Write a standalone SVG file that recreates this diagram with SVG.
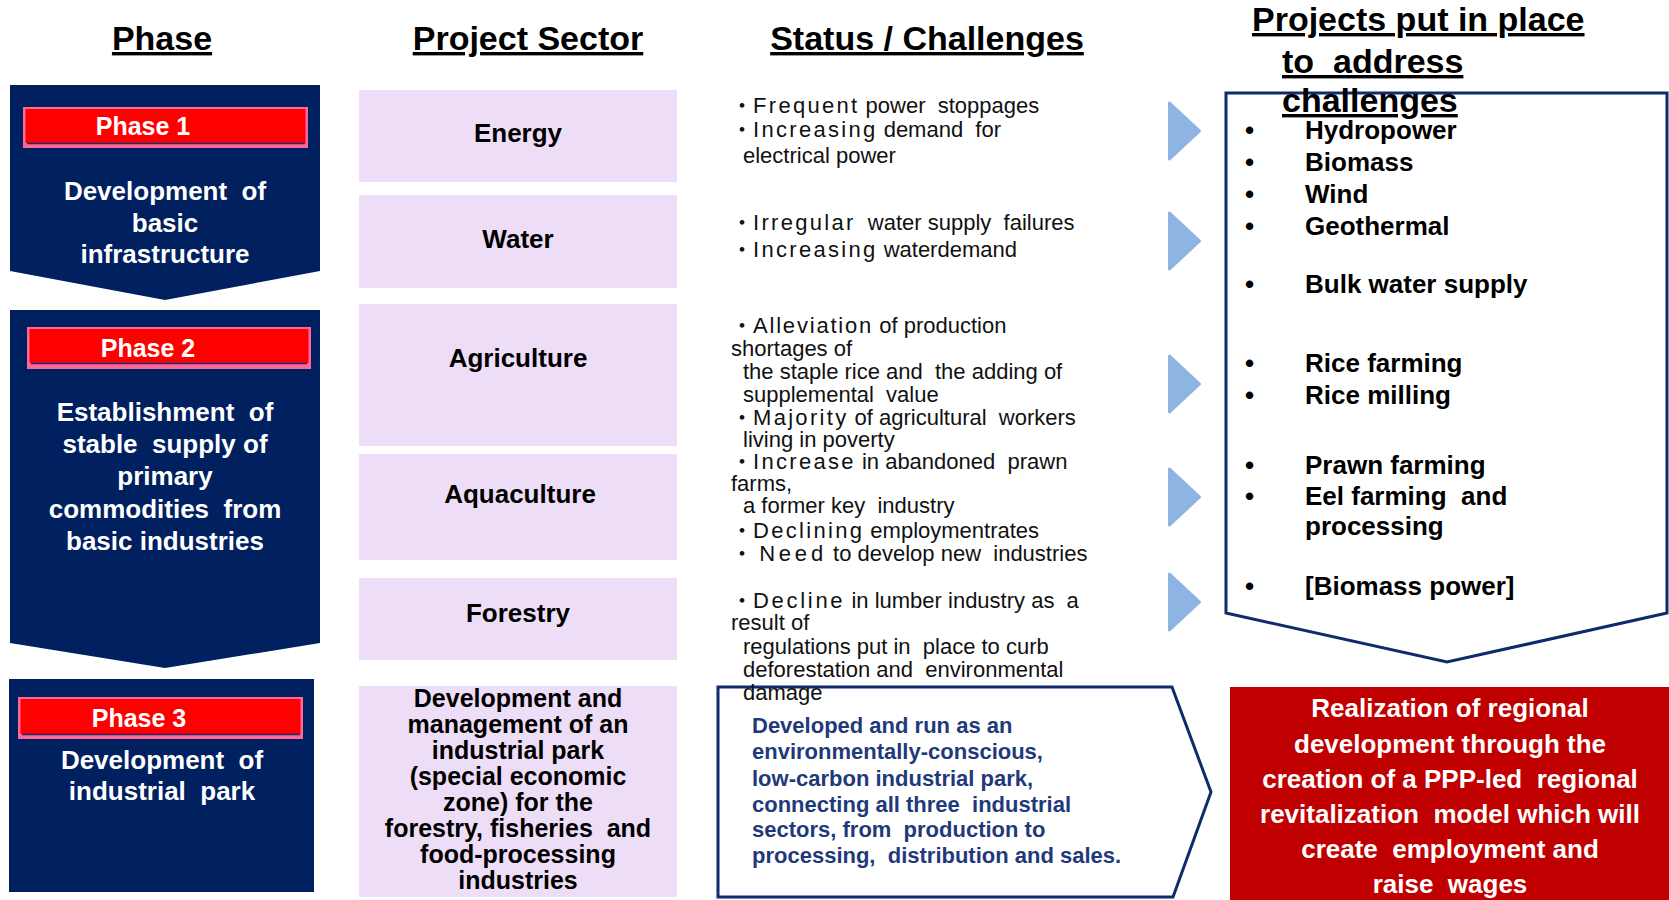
<svg xmlns="http://www.w3.org/2000/svg" width="1669" height="900" viewBox="0 0 1669 900" xml:space="preserve">
<style>
text{font-family:"Liberation Sans",Arial,"Noto Sans CJK JP",sans-serif;white-space:pre}
.hd{font-size:34px;font-weight:bold;fill:#000;text-decoration:underline}
.pbox{fill:#002060}
.plab{font-size:25px;font-weight:bold;fill:#fff;text-anchor:middle}
.pbody{font-size:26px;font-weight:bold;fill:#fff;text-anchor:middle}
.sec{fill:#EEDDF6}
.sect{font-size:26px;font-weight:bold;fill:#000;text-anchor:middle}
.sect2{font-size:25px;font-weight:bold;fill:#000;text-anchor:middle}
.st{font-size:22px;fill:#111}
.ls{letter-spacing:2.3px}
.arr{fill:#8DB4E2;stroke:#8DB4E2;stroke-width:3;stroke-linejoin:round}
.outl{fill:none;stroke:#0F2B6B;stroke-width:3}
.bt{font-size:22px;font-weight:bold;fill:#1F3A7A}
.pr{font-size:26px;font-weight:bold;fill:#000}
.rt{font-size:26px;font-weight:bold;fill:#fff;text-anchor:middle}
</style>

<g id="headers">
<text class="hd" x="162" y="50" text-anchor="middle">Phase</text>
<text class="hd" x="528" y="50" text-anchor="middle">Project Sector</text>
<text class="hd" x="927" y="50" text-anchor="middle">Status / Challenges</text>
</g>

<g id="phase1">
<path class="pbox" d="M10,85 H320 V271 L165,300 L10,271 Z"/>
<rect x="23" y="107" width="285" height="41" fill="#FF6699"/>
<rect x="25.5" y="109" width="280" height="34" fill="#FF0000"/>
<line x1="27" y1="143.5" x2="305" y2="143.5" stroke="#1F2A6A" stroke-width="1.6"/>
<text class="plab" x="143" y="135">Phase 1</text>
<text class="pbody" x="165" y="200" xml:space="preserve">Development  of</text>
<text class="pbody" x="165" y="232">basic</text>
<text class="pbody" x="165" y="263">infrastructure</text>
</g>

<g id="phase2">
<path class="pbox" d="M10,310 H320 V643 L165,668 L10,643 Z"/>
<rect x="27" y="327" width="284" height="42" fill="#FF6699"/>
<rect x="29.5" y="329" width="279" height="34" fill="#FF0000"/>
<line x1="31" y1="363.5" x2="307" y2="363.5" stroke="#1F2A6A" stroke-width="1.6"/>
<text class="plab" x="148" y="357">Phase 2</text>
<text class="pbody" x="165" y="421" xml:space="preserve">Establishment  of</text>
<text class="pbody" x="165" y="453" xml:space="preserve">stable  supply of</text>
<text class="pbody" x="165" y="485">primary</text>
<text class="pbody" x="165" y="518" xml:space="preserve">commodities  from</text>
<text class="pbody" x="165" y="550">basic industries</text>
</g>

<g id="phase3">
<rect class="pbox" x="9" y="679" width="305" height="213"/>
<rect x="18" y="697" width="285" height="42" fill="#FF6699"/>
<rect x="20.5" y="699" width="280" height="35" fill="#FF0000"/>
<line x1="22" y1="734.5" x2="300" y2="734.5" stroke="#1F2A6A" stroke-width="1.6"/>
<text class="plab" x="139" y="727">Phase 3</text>
<text class="pbody" x="162" y="769" xml:space="preserve">Development  of</text>
<text class="pbody" x="162" y="800" xml:space="preserve">industrial  park</text>
</g>

<g id="sector-energy">
<rect class="sec" x="359" y="90" width="318" height="92"/>
<text class="sect" x="518" y="142">Energy</text>
</g>
<g id="sector-water">
<rect class="sec" x="359" y="195" width="318" height="93"/>
<text class="sect" x="518" y="248">Water</text>
</g>
<g id="sector-agriculture">
<rect class="sec" x="359" y="304" width="318" height="142"/>
<text class="sect" x="518" y="367">Agriculture</text>
</g>
<g id="sector-aquaculture">
<rect class="sec" x="359" y="454" width="318" height="106"/>
<text class="sect" x="520" y="503">Aquaculture</text>
</g>
<g id="sector-forestry">
<rect class="sec" x="359" y="578" width="318" height="82"/>
<text class="sect" x="518" y="622">Forestry</text>
</g>
<g id="sector-industrial">
<rect class="sec" x="359" y="686" width="318" height="211"/>
<text class="sect2" x="518" y="707">Development and</text>
<text class="sect2" x="518" y="733">management of an</text>
<text class="sect2" x="518" y="759">industrial park</text>
<text class="sect2" x="518" y="785">(special economic</text>
<text class="sect2" x="518" y="811">zone) for the</text>
<text class="sect2" x="518" y="837" xml:space="preserve">forestry, fisheries  and</text>
<text class="sect2" x="518" y="863">food-processing</text>
<text class="sect2" x="518" y="889">industries</text>
</g>

<g id="status-energy">
<text class="st" x="731" y="113" xml:space="preserve">・<tspan class="ls">Frequent</tspan> power  stoppages</text>
<text class="st" x="731" y="137" xml:space="preserve">・<tspan class="ls">Increasing</tspan> demand  for</text>
<text class="st" x="743" y="163">electrical power</text>
</g>
<g id="status-water">
<text class="st" x="731" y="230" xml:space="preserve">・<tspan class="ls">Irregular</tspan>  water supply  failures</text>
<text class="st" x="731" y="257" xml:space="preserve">・<tspan class="ls">Increasing</tspan> waterdemand</text>
</g>
<g id="status-agriculture">
<text class="st" x="731" y="333" xml:space="preserve">・<tspan style="letter-spacing:1.8px">Alleviation</tspan> of production</text>
<text class="st" x="731" y="356">shortages of</text>
<text class="st" x="743" y="379" xml:space="preserve">the staple rice and  the adding of</text>
<text class="st" x="743" y="402" xml:space="preserve">supplemental  value</text>
<text class="st" x="731" y="425" xml:space="preserve">・<tspan class="ls">Majority</tspan> of agricultural  workers</text>
<text class="st" x="743" y="447">living in poverty</text>
</g>
<g id="status-aquaculture">
<text class="st" x="731" y="469" xml:space="preserve">・<tspan class="ls">Increase</tspan> in abandoned  prawn</text>
<text class="st" x="731" y="491">farms,</text>
<text class="st" x="743" y="513" xml:space="preserve">a former key  industry</text>
<text class="st" x="731" y="538" xml:space="preserve">・<tspan class="ls">Declining</tspan> employmentrates</text>
<text class="st" x="731" y="561" xml:space="preserve">・ <tspan style="letter-spacing:3.8px">Need</tspan> to develop new  industries</text>
</g>
<g id="status-forestry">
<text class="st" x="731" y="608" xml:space="preserve">・<tspan style="letter-spacing:2.7px">Decline</tspan> in lumber industry as  a</text>
<text class="st" x="731" y="630">result of</text>
<text class="st" x="743" y="654" xml:space="preserve">regulations put in  place to curb</text>
<text class="st" x="743" y="677" xml:space="preserve">deforestation and  environmental</text>
</g>

<g id="status-industrial">
<path class="outl" d="M718,687 H1172 L1211,792 L1173,897 H718 Z"/>
<text class="st" x="743" y="700">damage</text>
<text class="bt" x="752" y="733">Developed and run as an</text>
<text class="bt" x="752" y="759">environmentally-conscious,</text>
<text class="bt" x="752" y="786">low-carbon industrial park,</text>
<text class="bt" x="752" y="812" xml:space="preserve">connecting all three  industrial</text>
<text class="bt" x="752" y="837" xml:space="preserve">sectors, from  production to</text>
<text class="bt" x="752" y="863" xml:space="preserve">processing,  distribution and sales.</text>
</g>

<g id="connectors">
<path class="arr" d="M1169.5,103 L1199.5,131 L1169.5,159 Z"/>
<path class="arr" d="M1169.5,213 L1199.5,241 L1169.5,269 Z"/>
<path class="arr" d="M1169.5,356 L1199.5,384 L1169.5,412 Z"/>
<path class="arr" d="M1169.5,469 L1199.5,497 L1169.5,525 Z"/>
<path class="arr" d="M1169.5,574 L1199.5,602 L1169.5,630 Z"/>
</g>

<g id="projects">
<path class="outl" d="M1226,93 H1667 V613 L1447,662 L1226,613 Z"/>
<text class="hd" x="1252" y="31">Projects put in place</text>
<text class="hd" x="1282" y="73" xml:space="preserve">to  address</text>
<text class="hd" x="1282" y="112">challenges</text>
<g class="pr">
<text x="1245" y="139">•</text><text x="1305" y="139">Hydropower</text>
<text x="1245" y="171">•</text><text x="1305" y="171">Biomass</text>
<text x="1245" y="203">•</text><text x="1305" y="203">Wind</text>
<text x="1245" y="235">•</text><text x="1305" y="235">Geothermal</text>
<text x="1245" y="293">•</text><text x="1305" y="293">Bulk water supply</text>
<text x="1245" y="372">•</text><text x="1305" y="372">Rice farming</text>
<text x="1245" y="404">•</text><text x="1305" y="404">Rice milling</text>
<text x="1245" y="474">•</text><text x="1305" y="474">Prawn farming</text>
<text x="1245" y="505">•</text><text x="1305" y="505" xml:space="preserve">Eel farming  and</text>
<text x="1305" y="535">processing</text>
<text x="1245" y="595">•</text><text x="1305" y="595">[Biomass power]</text>
</g>
</g>

<g id="result">
<rect x="1230" y="687" width="439" height="213" fill="#C00000"/>
<text class="rt" x="1450" y="717">Realization of regional</text>
<text class="rt" x="1450" y="753">development through the</text>
<text class="rt" x="1450" y="788" xml:space="preserve">creation of a PPP-led  regional</text>
<text class="rt" x="1450" y="823" xml:space="preserve">revitalization  model which will</text>
<text class="rt" x="1450" y="858" xml:space="preserve">create  employment and</text>
<text class="rt" x="1450" y="893" xml:space="preserve">raise  wages</text>
</g>
</svg>
